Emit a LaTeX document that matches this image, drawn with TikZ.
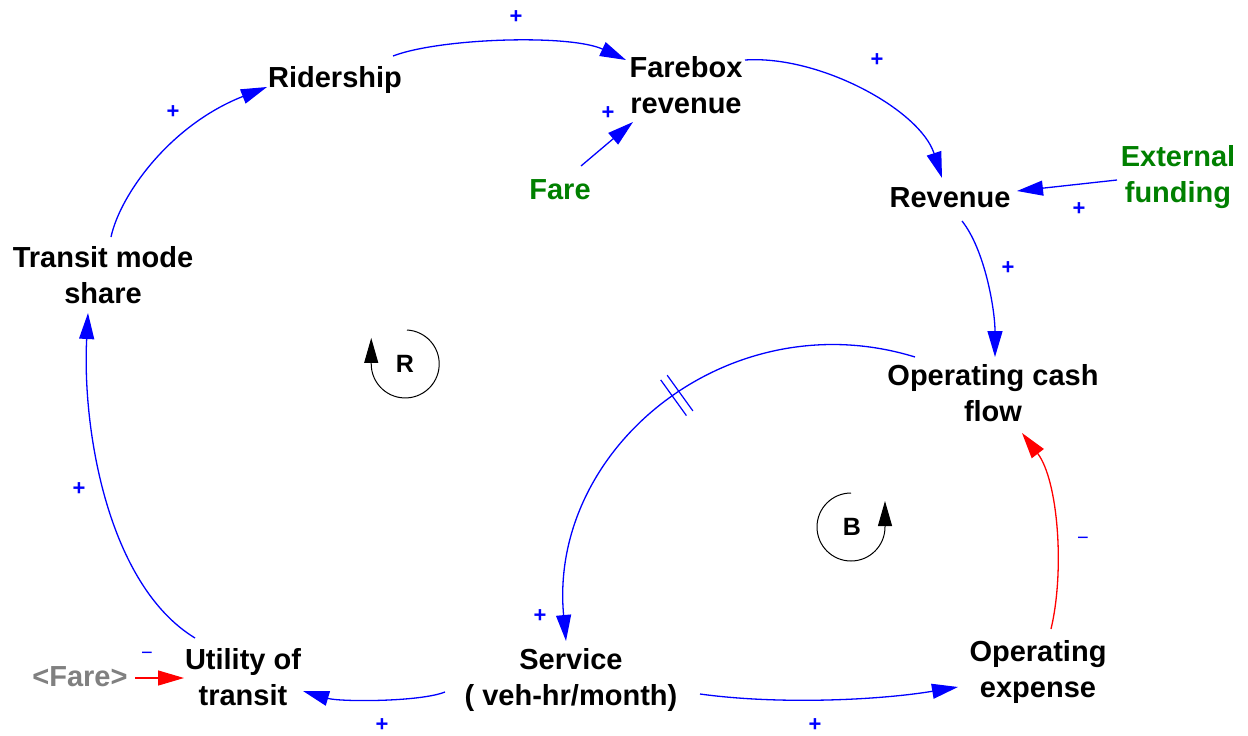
\documentclass[tikz,border=0pt]{standalone}
\usepackage{fontspec}
\setmainfont{Liberation Sans}
\usetikzlibrary{arrows.meta,decorations.markings}
\definecolor{vblue}{RGB}{0,0,255}
\definecolor{vred}{RGB}{255,0,0}
\definecolor{vgreen}{RGB}{0,128,0}
\definecolor{vgray}{RGB}{128,128,128}
\begin{document}
\begin{tikzpicture}[x=1pt,y=-1pt,
  var/.style={inner sep=0pt, align=center, font=\fontsize{29}{36}\selectfont\bfseries},
  exo/.style={var, text=vgreen},
  shadowvar/.style={var, text=vgray},
  link/.style={draw=vblue, line width=1.3pt, -{Triangle[length=26pt,width=15pt]}},
  neglink/.style={link, draw=vred},
  plus/.style={inner sep=0pt, text=vblue, font=\fontsize{22}{22}\selectfont\bfseries},
  minus/.style={inner sep=0pt, text=vblue, font=\fontsize{20}{20}\selectfont},
  looplbl/.style={inner sep=0pt, font=\fontsize{25}{25}\selectfont\bfseries},
  looparc/.style={draw=black, line width=1pt, -{Triangle[length=25pt,width=14pt]}},
  delaymark/.style={postaction={decorate}, decoration={markings,
    mark=at position #1 with {
      \draw[-, vblue, line width=1.2pt] (-4,-22) -- (-4,22);
      \draw[-, vblue, line width=1.2pt] (4,-22) -- (4,22);}}}
]
\useasboundingbox[fill=white] (0,0) rectangle (1248,736);

% variables
\node[var] (rid) at (335,80) {Ridership};
\node[var] (fbr) at (686,85) {Farebox\\revenue};
\node[exo] (fare) at (560,190) {Fare};
\node[var] (rev) at (950,198) {Revenue};
\node[exo] (ext) at (1178,177) {External\\funding};
\node[var] (tms) at (103,275) {Transit mode\\share};
\node[var] (ocf) at (993,393) {Operating cash\\flow};
\node[var] (svc) at (571,680) {Service\\( veh-hr/month)};
\node[var] (util) at (243,677) {Utility of\\transit};
\node[shadowvar] (farex) at (80,677) {<Fare>};
\node[var] (opex) at (1038,672) {Operating\\expense};

% causal links
\draw[link] ([shift={(58,-24)}]rid.center) .. controls (440,38) and (570,34) .. ([shift={(-60,-25)}]fbr.center);
\draw[link] ([shift={(59,-25)}]fbr.center) .. controls (820,55) and (920,110) .. ([shift={(-8,-20)}]rev.center);
\draw[link] ([shift={(21,-24)}]fare.center) -- ([shift={(-53,37)}]fbr.center);
\draw[link] ([shift={(-61,3)}]ext.center) -- ([shift={(67,-7)}]rev.center);
\draw[link] ([shift={(12,23)}]rev.center) .. controls (985,250) and (995,310) .. ([shift={(2,-36)}]ocf.center);
\draw[link, delaymark=0.47] ([shift={(-78,-36)}]ocf.center) .. controls (730,300) and (548,447) .. ([shift={(-5,-39)}]svc.center);
\draw[link] ([shift={(-126,12)}]svc.center) .. controls (420,702) and (340,702) .. ([shift={(60,14)}]util.center);
\draw[link] ([shift={(129,14)}]svc.center) .. controls (780,705) and (880,700) .. ([shift={(-80,15)}]opex.center);
\draw[neglink] ([shift={(13,-43)}]opex.center) .. controls (1065,570) and (1058,480) .. ([shift={(29,40)}]ocf.center);
\draw[link] ([shift={(-48,-39)}]util.center) .. controls (108,585) and (82,430) .. ([shift={(-15,38)}]tms.center);
\draw[link] ([shift={(8,-38)}]tms.center) .. controls (120,195) and (170,125) .. ([shift={(-68,7)}]rid.center);
\draw[neglink] ([shift={(55,1)}]farex.center) -- ([shift={(-59,1)}]util.center);

% link polarities
\node[plus] (p1) at (516,17) {+};
\node[plus] (p2) at (877,60) {+};
\node[plus] (p3) at (608,113) {+};
\node[plus] (p4) at (1079,209) {+};
\node[plus] (p5) at (1008,268) {+};
\node[plus] (p6) at (540,616) {+};
\node[plus] (p7) at (382,725) {+};
\node[plus] (p8) at (815,725) {+};
\node[plus] (p9) at (173,112) {+};
\node[plus] (p10) at (79,489) {+};
\node[minus] (m1) at (1083,541) {−};
\node[minus] (m2) at (147,656) {−};

% loop identifiers
\node[looplbl] (loopR) at (405,364) {R};
\draw[looparc] ([shift={(2,-34)}]loopR.center) arc[start angle=-87, end angle=180, radius=34] -- ++(0,-26);
\node[looplbl] (loopB) at (852,527) {B};
\draw[looparc] ([shift={(-1,-34)}]loopB.center) arc[start angle=-90, end angle=-360, radius=34] -- ++(0,-26);
\end{tikzpicture}
\end{document}
